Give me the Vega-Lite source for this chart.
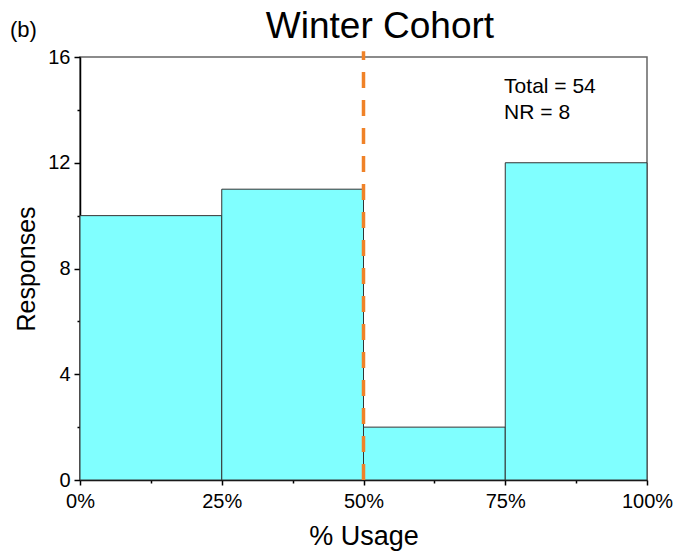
{
  "$schema": "https://vega.github.io/schema/vega-lite/v6.json",
  "width": 567,
  "height": 423,
  "autosize": {"type": "none"},
  "padding": {"left": 80, "top": 57, "right": 32, "bottom": 71},
  "background": "white",
  "config": {
    "font": "Liberation Sans",
    "view": {"stroke": "#666666", "strokeWidth": 1.5}
  },
  "datasets": {
    "bars": [
      {"bin_start": 0, "bin_end": 25, "responses": 10},
      {"bin_start": 25, "bin_end": 50, "responses": 11},
      {"bin_start": 50, "bin_end": 75, "responses": 2},
      {"bin_start": 75, "bin_end": 100, "responses": 12}
    ],
    "notes": [
      {"x": 74.8, "y": 14.64, "label": "Total = 54"},
      {"x": 74.8, "y": 13.65, "label": "NR = 8"}
    ],
    "panel": [
      {"x": -12.35, "y": 16.76, "label": "(b)"}
    ],
    "heading": [
      {"x": 52.9, "y": 16.72, "label": "Winter Cohort"}
    ],
    "cutoff": [
      {"x": 50, "y": 0, "y2": 16.22}
    ]
  },
  "layer": [
    {
      "data": {"name": "bars"},
      "mark": {"type": "rect", "fill": "#80FFFF", "stroke": "#333333", "strokeWidth": 1},
      "encoding": {
        "x": {
          "field": "bin_start",
          "type": "quantitative",
          "scale": {"domain": [0, 100], "nice": false},
          "axis": {
            "values": [0, 12.5, 25, 37.5, 50, 62.5, 75, 87.5, 100],
            "labelExpr": "datum.value % 25 === 0 ? datum.value + '%' : ''",
            "tickSize": {"condition": {"test": "datum.value % 25 !== 0", "value": 3}, "value": 5},
            "tickColor": "black",
            "tickWidth": 1.5,
            "domainColor": "black",
            "domainWidth": 1.5,
            "grid": false,
            "labelFontSize": 20,
            "labelColor": "black",
            "labelPadding": 6,
            "labelFlush": false,
            "title": "% Usage",
            "titleFontSize": 27,
            "titleFontWeight": "normal",
            "titleColor": "black",
            "titlePadding": 12
          }
        },
        "x2": {"field": "bin_end"},
        "y": {
          "field": "responses",
          "type": "quantitative",
          "scale": {"domain": [0, 16], "nice": false},
          "axis": {
            "values": [0, 2, 4, 6, 8, 10, 12, 14, 16],
            "labelExpr": "datum.value % 4 === 0 ? datum.value : ''",
            "tickSize": {"condition": {"test": "datum.value % 4 !== 0", "value": 3}, "value": 6},
            "tickColor": "black",
            "tickWidth": 1.5,
            "domainColor": "black",
            "domainWidth": 1.5,
            "grid": false,
            "labelFontSize": 20,
            "labelColor": "black",
            "labelPadding": 4,
            "labelFlush": false,
            "title": "Responses",
            "titleFontSize": 25,
            "titleFontWeight": "normal",
            "titleColor": "black",
            "titlePadding": 8
          }
        },
        "y2": {"datum": 0}
      }
    },
    {
      "data": {"name": "cutoff"},
      "mark": {"type": "rule", "color": "#F08228", "strokeWidth": 3.5, "strokeDash": [16, 12], "clip": false},
      "encoding": {
        "x": {"field": "x", "type": "quantitative"},
        "y": {"field": "y", "type": "quantitative"},
        "y2": {"field": "y2"}
      }
    },
    {
      "data": {"name": "notes"},
      "mark": {"type": "text", "align": "left", "baseline": "alphabetic", "fontSize": 21, "color": "black"},
      "encoding": {
        "x": {"field": "x", "type": "quantitative"},
        "y": {"field": "y", "type": "quantitative"},
        "text": {"field": "label"}
      }
    },
    {
      "data": {"name": "panel"},
      "mark": {"type": "text", "align": "left", "baseline": "alphabetic", "fontSize": 22, "color": "black", "clip": false},
      "encoding": {
        "x": {"field": "x", "type": "quantitative"},
        "y": {"field": "y", "type": "quantitative"},
        "text": {"field": "label"}
      }
    },
    {
      "data": {"name": "heading"},
      "mark": {"type": "text", "align": "center", "baseline": "alphabetic", "fontSize": 37, "color": "black", "clip": false},
      "encoding": {
        "x": {"field": "x", "type": "quantitative"},
        "y": {"field": "y", "type": "quantitative"},
        "text": {"field": "label"}
      }
    }
  ]
}
